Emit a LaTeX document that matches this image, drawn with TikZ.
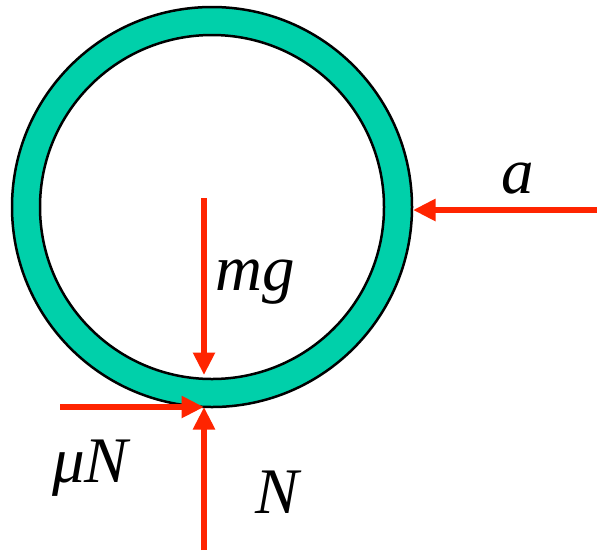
\documentclass[tikz,border=0pt]{standalone}
\usepackage{fontspec}
\setmainfont{Liberation Serif}
\usetikzlibrary{arrows.meta, positioning}

\definecolor{ringgreen}{RGB}{0,208,170}
\definecolor{forcered}{RGB}{255,36,0}

\begin{document}
\begin{tikzpicture}[
    x=0.02cm, y=-0.02cm,
    force/.style={-{Triangle[length=4.5mm, width=4.2mm]}, line width=1.1mm, forcered},
    lbl/.style={font=\fontsize{37}{44}\selectfont\itshape, inner sep=0pt, anchor=base},
  ]
  \useasboundingbox (0,0) rectangle (597,552);

  % Ring
  \fill[ringgreen, even odd rule] (212,207) circle[radius=200] (212,207) circle[radius=172];
  \draw[line width=0.5mm] (212,207) circle[radius=200];
  \draw[line width=0.5mm] (212,207) circle[radius=172];

  % Points of action
  \coordinate (centre) at (204,198);
  \coordinate (inner) at (204,375);
  \coordinate (contact) at (204,407);
  \coordinate (side) at (413,210);
  \coordinate (aend) at (597,210);
  \coordinate (fend) at (60,407);
  \coordinate (nend) at (204,550);

  % Forces
  \draw[force] (centre) -- (inner);
  \draw[force] (aend) -- (side);
  \draw[force] (fend) -- (contact);
  \draw[force] (nend) -- (contact);

  % Labels
  \node[lbl] (alabel) at (518,193) {a};
  \node[lbl] (mglabel) at (255,290) {mg};
  \node[lbl] (fnlabel) at (90,482) {μN};
  \node[lbl] (nlabel) at (277,513) {N};

\end{tikzpicture}
\end{document}
